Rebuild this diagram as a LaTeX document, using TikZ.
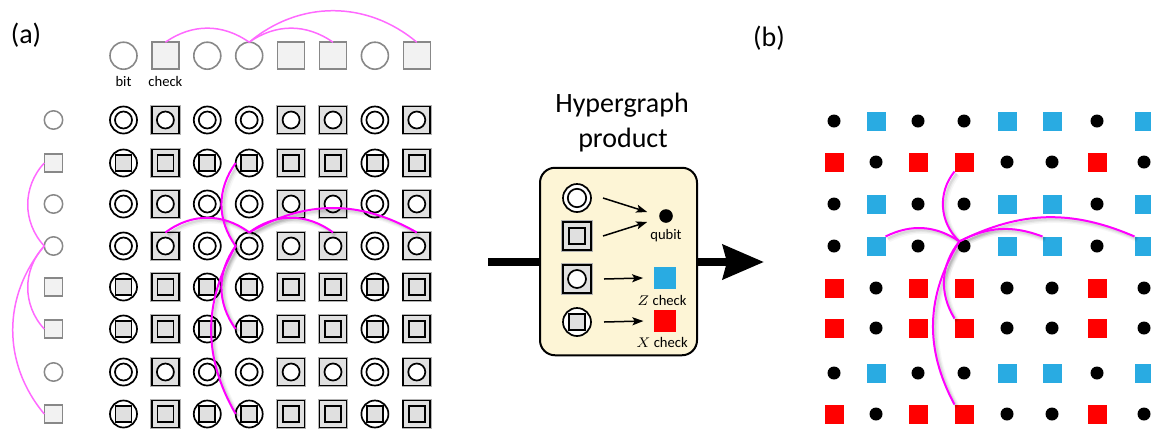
\documentclass[tikz,border=0pt]{standalone}
\usepackage{fontspec}
\setmainfont{Carlito}
\usetikzlibrary{arrows.meta}

\definecolor{hubmag}{RGB}{255,0,255}
\definecolor{linkmag}{RGB}{255,105,255}
\definecolor{bitgray}{RGB}{136,136,136}
\definecolor{bitfill}{RGB}{242,242,242}
\definecolor{sqfill}{RGB}{224,224,224}
\definecolor{zblue}{RGB}{41,171,226}
\definecolor{xred}{RGB}{255,0,0}
\definecolor{boxfill}{RGB}{253,245,214}

% hub arcs of the product code, panel (a) and panel (b)
\newcommand\drawhubarcs[1]{%
  \draw[#1] (g-4-4.north) to[bend right=37] (g-4-2.north);
  \draw[#1] (g-4-4.north) to[bend left=37] (g-4-6.north);
  \draw[#1] (g-4-4.north) to[bend left=30] (g-4-8.north);
  \draw[#1] (g-4-4.west) to[bend left=36] (g-2-4.west);
  \draw[#1] (g-4-4.west) to[bend right=36] (g-6-4.west);
  \draw[#1] (g-4-4.west) to[bend right=30] (g-8-4.west);
  \draw[#1] (b-4-4.135) to[bend right=30] (b-4-2.north east);
  \draw[#1] (b-4-4.135) to[bend left=24] (b-4-6.north west);
  \draw[#1] (b-4-4.135) to[bend left=25] (b-4-8.north west);
  \draw[#1] (b-4-4.135) to[bend left=43] (b-2-4.south west);
  \draw[#1] (b-4-4.135) to[bend right=35] (b-6-4.north west);
  \draw[#1] (b-4-4.135) to[bend right=30] (b-8-4.north west);
}

\begin{document}
\begin{tikzpicture}[x=0.5pt,y=-0.5pt,
  every node/.style={inner sep=0pt, outer sep=0pt},
  top-c/.style={circle, draw=bitgray, line width=0.8pt, fill=white, minimum size=13.5pt},
  top-s/.style={rectangle, draw=bitgray, line width=0.8pt, fill=bitfill, minimum size=13.5pt},
  lft-c/.style={circle, draw=bitgray, line width=0.75pt, fill=white, minimum size=9.2pt},
  lft-s/.style={rectangle, draw=bitgray, line width=0.75pt, fill=bitfill, minimum size=9.2pt},
  outer-c/.style={circle, draw=black, line width=0.85pt, fill=white, minimum size=13.5pt},
  outer-s/.style={rectangle, draw=black, line width=0.85pt, fill=sqfill, minimum size=13.5pt,
    preaction={draw=black!30, line width=1.7pt}},
  inner-c/.style={circle, draw=black, line width=0.85pt, fill=white, minimum size=8.5pt},
  inner-s/.style={rectangle, draw=black, line width=0.85pt, fill=sqfill, minimum size=8pt},
  q-cc/.style={circle, fill=black, minimum size=6.5pt},
  q-ss/.style={q-cc},
  q-cs/.style={rectangle, fill=zblue, minimum size=9.5pt},
  q-sc/.style={rectangle, fill=xred, minimum size=9.5pt},
  linkarc/.style={draw=linkmag, line width=0.75pt},
  hubarc/.style={draw=hubmag, line width=1pt},
  biglabel/.style={font=\fontsize{14}{16}\selectfont},
  smalllabel/.style={font=\fontsize{7.3}{8}\selectfont},
  smallarrow/.style={line width=0.75pt, -{Stealth[length=5.5pt, width=4pt, inset=1.2pt]}},
]
\useasboundingbox (0,0) rectangle (1151,430);
\clip (0,0) rectangle (1151,430);

% ---------- panel (a) ----------
\node[biglabel] (lbla) at (26,35) {(a)};

% classical code drawn along the top
\foreach \ct/\cx [count=\ci] in {c/123.5, s/165.4, c/207.3, c/249.2, s/291.1, s/333.0, c/374.9, s/416.8}
  \node[top-\ct] (t-\ci) at (\cx,55.7) {};
\node[smalllabel] (bitlbl) at (123.5,81) {bit};
\node[smalllabel] (chklbl) at (165.4,81) {check};

% classical code drawn down the left side
\foreach \rt/\ry [count=\ri] in {c/120, s/163, c/204, c/246, s/287, s/329, c/372, s/414}
  \node[lft-\rt] (l-\ri) at (53.5,\ry) {};

% Tanner-graph links of the classical code
\draw[linkarc] (t-2.north) to[bend left=35] (t-4.north);
\draw[linkarc] (t-4.north) to[bend left=35] (t-6.north);
\draw[linkarc] (t-4.north) to[bend left=40] (t-8.north);
\draw[linkarc] (l-2.west) to[bend right=43] (l-4.west);
\draw[linkarc] (l-4.west) to[bend right=43] (l-6.west);
\draw[linkarc] (l-4.west) to[bend right=40] (l-8.west);

% product grid: outer shape from the column, inner shape from the row
\foreach \rt/\ry/\by [count=\ri] in {c/120/121, s/163/162, c/204/204, c/246/246, s/287/288, s/329/328, c/372/373, s/414/414}{
  \foreach \ct/\cx/\bx [count=\ci] in {c/123.5/834, s/165.4/876, c/207.3/918, c/249.2/964, s/291.1/1007, s/333.0/1052, c/374.9/1097, s/416.8/1144}{
    \node[outer-\ct] (g-\ri-\ci) at (\cx,\ry) {};
    \node[inner-\rt] (gi-\ri-\ci) at (\cx,\ry) {};
    \node[q-\rt\ct] (b-\ri-\ci) at (\bx,\by) {};
  }
}

% ---------- middle: hypergraph product ----------
\node[biglabel, anchor=base] (hgtitle1) at (622,112.7) {Hypergraph};
\node[biglabel, anchor=base] (hgtitle2) at (623,147) {product};

\coordinate (flowin) at (488,262);
\coordinate (flowout) at (764,262);
\draw[line width=4pt, -{Stealth[length=20.5pt, width=17pt, inset=2pt]}] (flowin) -- (flowout);

\node[draw=black, line width=1pt, fill=boxfill, rounded corners=7.5pt,
      minimum width=78.5pt, minimum height=93.75pt] (hp) at (618.5,261.5) {};

\node[outer-c, minimum size=14pt] (k1) at (577,198) {};
\node[inner-c, minimum size=9.2pt] (k1i) at (577,198) {};
\node[outer-s, minimum size=14pt] (k2) at (577,236) {};
\node[inner-s, minimum size=8.3pt] (k2i) at (577,236) {};
\node[outer-s, minimum size=14pt] (k3) at (577,279) {};
\node[inner-c, minimum size=9pt] (k3i) at (577,279) {};
\node[outer-c, minimum size=14pt] (k4) at (577,322) {};
\node[inner-s, minimum size=8.3pt] (k4i) at (577,322) {};

\node[circle, fill=black, minimum size=6.8pt] (qd) at (666,216) {};
\node[smalllabel] (qlbl) at (666,236) {qubit};
\node[rectangle, fill=zblue, minimum size=11.3pt] (zc) at (665,278) {};
\node[smalllabel] (zlbl) at (662,300) {$Z$ check};
\node[rectangle, fill=xred, minimum size=11pt] (xc) at (665,321) {};
\node[smalllabel] (xlbl) at (662,342) {$X$ check};

\coordinate (a1s) at ([xshift=6pt]k1.east);
\coordinate (a1e) at ([xshift=-6pt, yshift=2pt]qd.west);
\coordinate (a2s) at ([xshift=6pt]k2.east);
\coordinate (a2e) at ([xshift=-6pt, yshift=-3pt]qd.west);
\coordinate (a3s) at ([xshift=6.5pt]k3.east);
\coordinate (a3e) at ([xshift=-5.3pt]zc.west);
\coordinate (a4s) at ([xshift=6.5pt]k4.east);
\coordinate (a4e) at ([xshift=-5.3pt]xc.west);
\draw[smallarrow] (a1s) -- (a1e);
\draw[smallarrow] (a2s) -- (a2e);
\draw[smallarrow] (a3s) -- (a3e);
\draw[smallarrow] (a4s) -- (a4e);

% ---------- panel (b) ----------
\node[biglabel] (lblb) at (769,38) {(b)};

% soft drop shadow under the hub arcs, then the arcs themselves
\foreach \w/\o/\s in {2.6pt/0.035/3.2, 1.8pt/0.05/2.6, 1.1pt/0.07/2.1}{
  \begin{scope}[transform canvas={shift={(\s,\s)}}]
    \drawhubarcs{draw=black, draw opacity=\o, line width=\w}
  \end{scope}
}
\drawhubarcs{hubarc}
\end{tikzpicture}
\end{document}
